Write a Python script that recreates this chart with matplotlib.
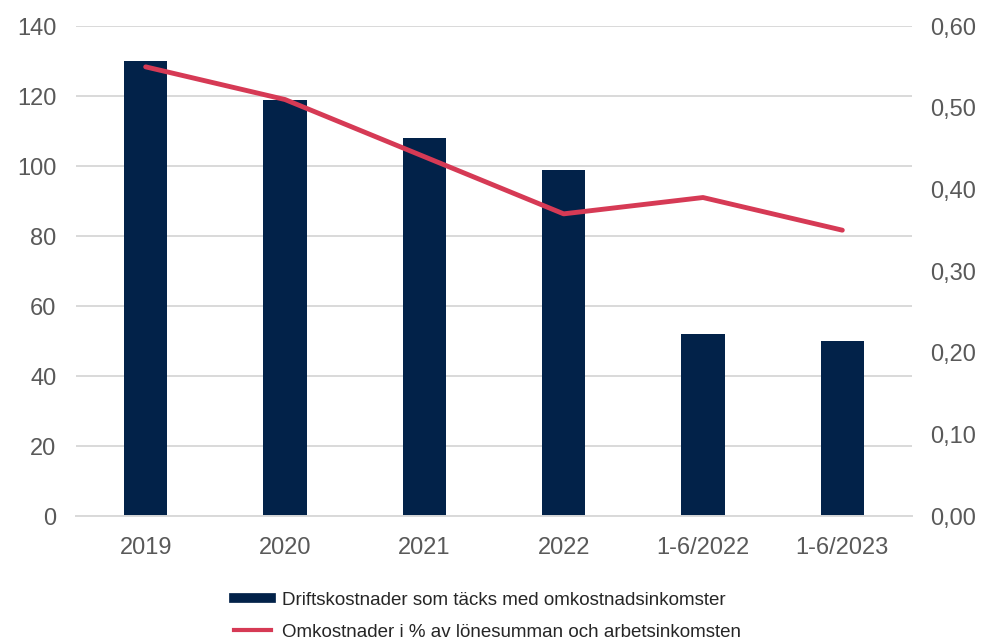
import matplotlib.pyplot as plt
from matplotlib.lines import Line2D
from matplotlib.ticker import FuncFormatter

plt.rcParams["font.family"] = ["Liberation Sans", "DejaVu Sans"]

categories = ["2019", "2020", "2021", "2022", "1-6/2022", "1-6/2023"]
driftskostnader = [130, 119, 108, 99, 52, 50]
andel_procent = [0.55, 0.51, 0.44, 0.37, 0.39, 0.35]

bar_label = "Driftskostnader som täcks med omkostnadsinkomster"
line_label = "Omkostnader i % av lönesumman och arbetsinkomsten"

navy = "#022249"
red = "#d63a55"
grid = "#d9d9d9"
text = "#595959"

fig = plt.figure(figsize=(9.82, 6.41), dpi=100)
ax = fig.add_axes([0.0774, 0.195, 0.8513, 0.7644])
x = list(range(len(categories)))
ax.bar(x, driftskostnader, width=0.31, color=navy, zorder=2)
ax.set_xlim(-0.5, len(categories) - 0.5)
ax.set_ylim(0, 140)
ax.set_yticks(range(0, 141, 20))
ax.set_xticks(x)
ax.set_xticklabels(categories)
ax.grid(axis="y", color=grid, linewidth=1.4, zorder=0)
for side in ["top", "right", "left"]:
    ax.spines[side].set_visible(False)
ax.spines["bottom"].set_color(grid)
ax.spines["bottom"].set_linewidth(1.4)
ax.tick_params(length=0, labelsize=17, labelcolor=text)
ax.tick_params(axis="y", pad=14)
ax.tick_params(axis="x", pad=15)

ax2 = ax.twinx()
ax2.plot(x, andel_procent, color=red, linewidth=3.5, solid_capstyle="round", zorder=3)
ax2.set_ylim(0, 0.60)
ax2.set_yticks([i / 10 for i in range(7)])
ax2.yaxis.set_major_formatter(FuncFormatter(lambda v, _: f"{v:.2f}".replace(".", ",")))
for side in ["top", "right", "left", "bottom"]:
    ax2.spines[side].set_visible(False)
ax2.tick_params(length=0, labelsize=17, labelcolor=text, pad=13)

handles = [
    Line2D([], [], color=navy, linewidth=7),
    Line2D([], [], color=red, linewidth=3),
]
fig.legend(handles, [bar_label, line_label], loc="upper left",
           bbox_to_anchor=(0.238, 0.077), frameon=False, fontsize=13.5,
           labelcolor="#262626", handlelength=2.0, handletextpad=0.6,
           labelspacing=0.8, borderaxespad=0, borderpad=0)

fig.savefig("out.png", dpi=100)
